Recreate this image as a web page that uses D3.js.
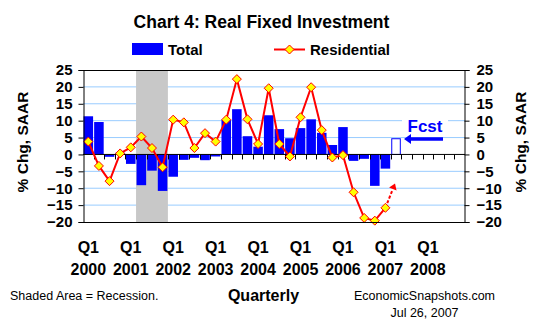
<!DOCTYPE html>
<html><head><meta charset="utf-8">
<script src="https://cdn.jsdelivr.net/npm/d3@7"></script>
<style>body{margin:0;background:#fff}svg{display:block}text{font-family:"Liberation Sans",Arial,sans-serif}</style>
</head><body>
<script>
const years = [2000,2001,2002,2003,2004,2005,2006,2007,2008];
const quarters = years.flatMap(y => [1,2,3,4].map(q => y + "Q" + q));
const total = [11.3,9.6,-0.7,0.5, -2.8,-9.1,-4.8,-10.8, -6.6,-1.6,-1.0,-1.7, -0.6,10.3,13.4,5.4, 2.3,11.6,7.5,4.8, 7.8,10.4,6.4,2.8, 8.1,-1.9,-1.3,-9.3, -4.2];
const forecastQuarter = "2007Q2";
const forecastValue = 4.8;
const residential = [3.8,-3.4,-7.9,0.3, 2.1,5.3,1.9,-3.8, 10.3,9.5,1.9,6.3, 3.8,10.3,22.3,10.4, 3.1,19.6,3.1,-0.6, 11.0,19.9,7.2,-0.9, -0.2,-11.2,-18.8,-19.6, -15.8];
const forecastArrowTarget = -8.6;
const recession = ["2001Q2","2001Q4"];
const yTicks = [-20,-15,-10,-5,0,5,10,15,20,25];

const W=545,H=330;
const L=83,R=465,T=70,B=222;
const svg=d3.select("body").append("svg").attr("width",W).attr("height",H);
const x=d3.scaleBand().domain(quarters).range([L,R]).padding(0);
const y=d3.scaleLinear().domain([-20,25]).range([B,T]);
const bw=x.bandwidth();
const cx=q=>x(q)+bw/2;

// gridlines
svg.append("g").selectAll("line").data(yTicks.filter(v=>v!==0&&v!==25&&v!==-20)).join("line")
 .attr("x1",L).attr("x2",R).attr("y1",d=>y(d)).attr("y2",d=>y(d)).attr("stroke","#99ccff").attr("stroke-width",1);

// recession
svg.append("rect").attr("x",x(recession[0])).attr("y",T).attr("width",x(recession[1])+bw-x(recession[0])).attr("height",B-T).attr("fill","#c8c8c8");

// Fcst label
const fg=svg.append("g");
fg.append("rect").attr("x",402).attr("y",y(10)-4).attr("width",46).attr("height",8).attr("fill","#fff");
fg.append("text").attr("x",425).attr("y",131.5).attr("text-anchor","middle").attr("font-size","17px").attr("font-weight","bold").attr("fill","#0000ff").text("Fcst");
fg.append("line").attr("x1",443).attr("x2",409).attr("y1",139).attr("y2",139).attr("stroke","#0000ff").attr("stroke-width",3.3);
fg.append("path").attr("d","M404,139 L411,134 L411,144 Z").attr("fill","#0000ff");

// bars
const barW=bw*0.9;
svg.append("g").selectAll("rect").data(total.map((v,i)=>({q:quarters[i],v}))).join("rect")
 .attr("x",d=>cx(d.q)-barW/2).attr("width",barW)
 .attr("y",d=>y(Math.max(0,d.v))).attr("height",d=>Math.abs(y(d.v)-y(0)))
 .attr("fill","#0000ff");
svg.append("rect").attr("x",cx(forecastQuarter)-barW/2+0.5).attr("width",barW-1)
 .attr("y",y(forecastValue)+0.5).attr("height",y(0)-y(forecastValue)-0.5)
 .attr("fill","#fff").attr("stroke","#0000ff").attr("stroke-width",1);

// zero line and category ticks
svg.append("line").attr("x1",L).attr("x2",R).attr("y1",y(0)).attr("y2",y(0)).attr("stroke","#000");
svg.append("g").selectAll("line").data(quarters.slice(1)).join("line")
 .attr("x1",d=>Math.round(x(d))+0.5).attr("x2",d=>Math.round(x(d))+0.5).attr("y1",y(0)).attr("y2",y(0)+5).attr("stroke","#000");

// residential line
const pts=residential.map((v,i)=>({q:quarters[i],v}));
svg.append("path").datum(pts).attr("fill","none").attr("stroke","#ff0000").attr("stroke-width",2)
 .attr("d",d3.line().x(d=>cx(d.q)).y(d=>y(d.v)));
const last=pts[pts.length-1];
const ax1=cx(last.q), ay1=y(last.v), ax2=cx(forecastQuarter)-1, ay2=y(forecastArrowTarget);
const ang=Math.atan2(ay2-ay1,ax2-ax1);
const hx=ax2-6*Math.cos(ang), hy=ay2-6*Math.sin(ang);
svg.append("line").attr("x1",ax1).attr("y1",ay1).attr("x2",hx).attr("y2",hy).attr("stroke","#ff0000").attr("stroke-width",2).attr("stroke-dasharray","3,2");
svg.append("path").attr("fill","#ff0000").attr("d",`M${ax2},${ay2} L${hx+4*Math.sin(ang)},${hy-4*Math.cos(ang)} L${hx-4*Math.sin(ang)},${hy+4*Math.cos(ang)} Z`);
const diamond="M0,-4.5 L4.5,0 L0,4.5 L-4.5,0 Z";
svg.append("g").selectAll("path").data(pts).join("path")
 .attr("d",diamond).attr("transform",d=>`translate(${cx(d.q)},${y(d.v)})`)
 .attr("fill","#ffff00").attr("stroke","#ff0000").attr("stroke-width",1);

// border
svg.append("line").attr("x1",L).attr("x2",R).attr("y1",T+0.5).attr("y2",T+0.5).attr("stroke","#000");
svg.append("line").attr("x1",L).attr("x2",R).attr("y1",B+0.5).attr("y2",B+0.5).attr("stroke","#000");

// axes
const ya=svg.append("g").attr("transform",`translate(${L+0.5},0)`).call(d3.axisLeft(y).tickValues(yTicks).tickSize(5).tickPadding(6).tickFormat(d3.format("d")));
const yb=svg.append("g").attr("transform",`translate(${R-0.5},0)`).call(d3.axisRight(y).tickValues(yTicks).tickSize(5).tickPadding(7).tickFormat(d3.format("d")));
[ya,yb].forEach(g=>{g.select(".domain").attr("stroke","#000");g.selectAll(".tick line").attr("stroke","#000");
 g.selectAll("text").attr("font-size","15px").attr("font-weight","bold").attr("fill","#000").attr("font-family",'"Liberation Sans",Arial,sans-serif');});

// x labels
const xl=svg.append("g").selectAll("g").data(years).join("g").attr("transform",d=>`translate(${cx(d+"Q1")},0)`);
xl.append("text").attr("y",253).attr("text-anchor","middle").attr("font-size","16px").attr("font-weight","bold").text("Q1");
xl.append("text").attr("y",275).attr("text-anchor","middle").attr("font-size","16px").attr("font-weight","bold").text(d=>d);

// axis titles
svg.append("text").attr("transform","translate(28,142) rotate(-90)").attr("text-anchor","middle").attr("font-size","15.5px").attr("font-weight","bold").text("% Chg, SAAR");
svg.append("text").attr("transform","translate(526,142) rotate(-90)").attr("text-anchor","middle").attr("font-size","15.5px").attr("font-weight","bold").text("% Chg, SAAR");

// title & legend
svg.append("text").attr("x",261.5).attr("y",28).attr("text-anchor","middle").attr("font-size","17.5px").attr("font-weight","bold").text("Chart 4: Real Fixed Investment");
svg.append("rect").attr("x",132).attr("y",43).attr("width",31).attr("height",12).attr("fill","#0000ff");
svg.append("text").attr("x",168).attr("y",55).attr("font-size","15px").attr("font-weight","bold").text("Total");
svg.append("line").attr("x1",274).attr("x2",305).attr("y1",49.5).attr("y2",49.5).attr("stroke","#ff0000").attr("stroke-width",2);
svg.append("path").attr("d",diamond).attr("transform","translate(289.5,49.5)").attr("fill","#ffff00").attr("stroke","#ff0000");
svg.append("text").attr("x",310).attr("y",55).attr("font-size","15px").attr("font-weight","bold").text("Residential");

// footer
svg.append("text").attr("x",10).attr("y",300).attr("font-size","12.5px").text("Shaded Area = Recession.");
svg.append("text").attr("x",263.5).attr("y",301).attr("text-anchor","middle").attr("font-size","16px").attr("font-weight","bold").text("Quarterly");
svg.append("text").attr("x",424.5).attr("y",300).attr("text-anchor","middle").attr("font-size","12.5px").text("EconomicSnapshots.com");
svg.append("text").attr("x",424.5).attr("y",316.5).attr("text-anchor","middle").attr("font-size","12.5px").text("Jul 26, 2007");
</script>
</body></html>
